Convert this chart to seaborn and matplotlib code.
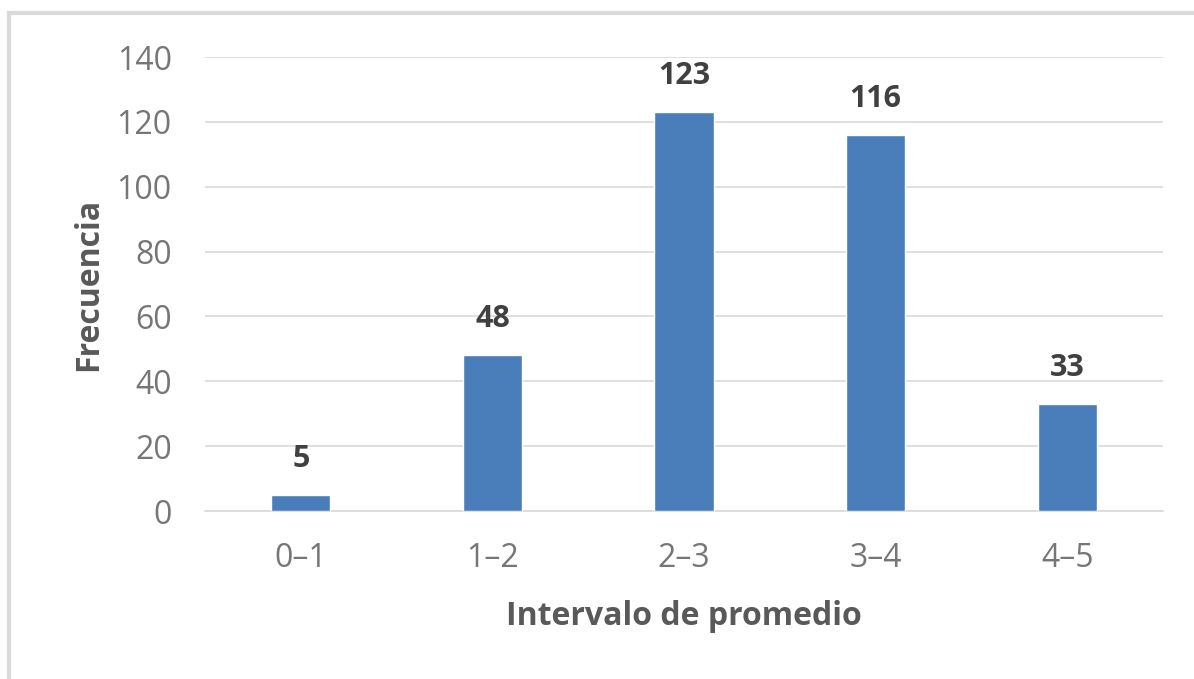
import matplotlib
matplotlib.use("Agg")
import matplotlib.pyplot as plt
import seaborn as sns
import pandas as pd

intervalos = ["0\u20131", "1\u20132", "2\u20133", "3\u20134", "4\u20135"]
frecuencias = [5, 48, 123, 116, 33]

df = pd.DataFrame({"intervalo": intervalos, "frecuencia": frecuencias})

sns.set_style("white")
plt.rcParams["font.family"] = ["Open Sans", "DejaVu Sans"]

fig = plt.figure(figsize=(11.94, 6.79), dpi=100)
ax = fig.add_axes([205 / 1194, 1 - 511 / 679, 958 / 1194, 454 / 679])

sns.barplot(data=df, x="intervalo", y="frecuencia", color="#4a7ebb",
            saturation=1, width=0.31, ax=ax, zorder=3)

ax.set_ylim(0, 140)
ax.set_yticks(range(0, 141, 20))
ax.yaxis.grid(True, color="#d9d9d9", linewidth=1.2, zorder=0)
for s in ["top", "right", "left"]:
    ax.spines[s].set_visible(False)
ax.spines["bottom"].set_color("#d9d9d9")
ax.spines["bottom"].set_linewidth(1.2)
ax.tick_params(axis="both", length=0, labelsize=23, labelcolor="#767676")
ax.tick_params(axis="y", pad=24)
ax.tick_params(axis="x", pad=22)

for i, v in enumerate(frecuencias):
    ax.text(i, v + 6.5, str(v), ha="center", va="bottom", fontsize=22,
            fontweight="bold", color="#404040")

ax.set_xlabel("Intervalo de promedio", fontsize=23, fontweight="bold",
              color="#595959", labelpad=18)
ax.set_ylabel("Frecuencia", fontsize=23, fontweight="bold",
              color="#595959", labelpad=8)

# marco gris claro alrededor del grafico
fig.patches.append(plt.Rectangle((9 / 1194, -0.1), 1.2, 1 - 13 / 679 + 0.1,
                                 transform=fig.transFigure, fill=False,
                                 edgecolor="#dadada", linewidth=3))

fig.savefig("out.png", dpi=100, facecolor="white")
